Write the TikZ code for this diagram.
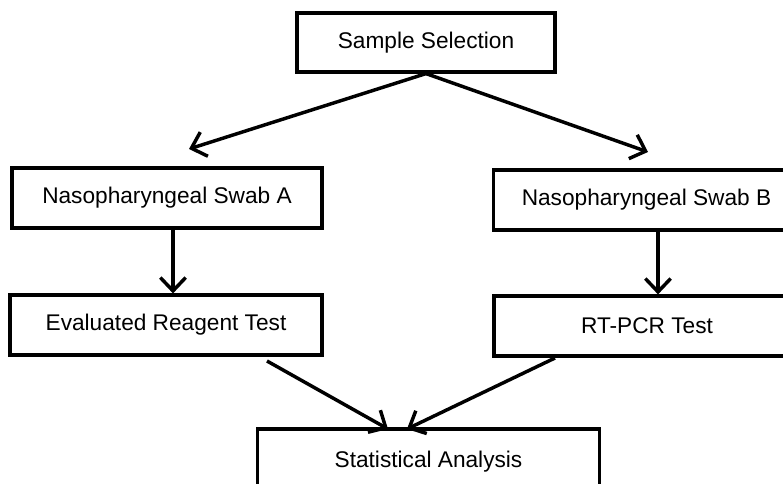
\documentclass[tikz,border=0pt]{standalone}
\usepackage{fontspec}
\setmainfont{Liberation Sans}
\usetikzlibrary{calc,positioning,arrows.meta}

\begin{document}
\begin{tikzpicture}[x=0.75pt,y=-0.75pt,
	stage/.style={draw,line width=2.4pt,inner sep=0pt,minimum height=45pt,
		font=\fontsize{17}{20}\selectfont},
	flow/.style={->,line width=2.6pt},
	>={Straight Barb[length=10pt,width=19pt,line width=2.6pt]}]
	\clip (0,0) rectangle (783,484);
	% boxes
	\node [stage,minimum width=193.5pt,minimum height=44.25pt] (sample) at (426,42.5) {Sample Selection};
	\node [stage,minimum width=232.5pt] (swab-a) at (167,198) {Nasopharyngeal Swab A};
	\node [stage,minimum width=230pt] (swab-b) at (646.5,200) {Nasopharyngeal Swab B};
	\node [stage,minimum width=234pt] (eval-test) at (166,325) {Evaluated Reagent Test};
	\node [stage,minimum width=229.5pt] (rt-pcr) at (647,326) {RT-PCR Test};
	\node [stage,minimum width=257pt,minimum height=49.5pt] (stats) at (428.5,462) {Statistical Analysis};
	% free arrow ends
	\coordinate (tip-a) at (189,149);
	\coordinate (tip-b) at (648,152);
	\coordinate (from-eval) at (267,361);
	\coordinate (from-rt) at (555,358);
	\coordinate (to-stats-a) at (388,429);
	\coordinate (to-stats-b) at (407,429);
	% arrows
	\foreach \t in {tip-a,tip-b}
		\draw [flow] (sample.south) -- (\t);
	\draw [flow] ($(swab-a.south)+(6,0)$) -- ($(eval-test.north)+(7,0)$);
	\draw [flow] ($(swab-b.south)+(11.5,0)$) -- ($(rt-pcr.north)+(11,0)$);
	\draw [flow] (from-eval) -- (to-stats-a);
	\draw [flow] (from-rt) -- (to-stats-b);
\end{tikzpicture}
\end{document}
